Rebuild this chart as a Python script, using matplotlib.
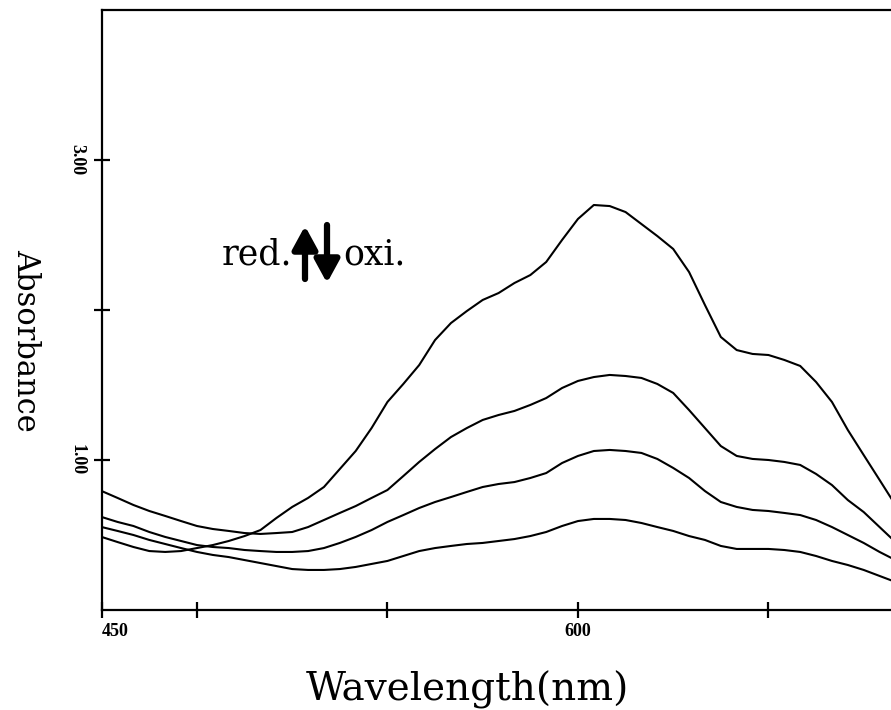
import matplotlib
matplotlib.use("Agg")
import matplotlib.pyplot as plt

# Absorption spectra, redox series (wavelength in nm, 5 nm steps)
wavelength = list(range(450, 701, 5))

absorb_1 = [0.487, 0.453, 0.42, 0.393, 0.387, 0.393, 0.413, 0.433, 0.46, 0.493,
            0.533, 0.613, 0.687, 0.747, 0.82, 0.94, 1.06, 1.213, 1.387, 1.507,
            1.633, 1.80, 1.913, 1.993, 2.067, 2.113, 2.18, 2.233, 2.32, 2.467,
            2.607, 2.70, 2.693, 2.653, 2.573, 2.493, 2.407, 2.253, 2.033, 1.82,
            1.733, 1.707, 1.70, 1.667, 1.627, 1.52, 1.387, 1.20, 1.033, 0.867,
            0.70]
absorb_2 = [0.793, 0.747, 0.70, 0.66, 0.627, 0.593, 0.56, 0.54, 0.527, 0.513,
            0.507, 0.513, 0.52, 0.553, 0.60, 0.647, 0.693, 0.747, 0.80, 0.893,
            0.987, 1.073, 1.153, 1.213, 1.267, 1.30, 1.327, 1.367, 1.413, 1.48,
            1.527, 1.553, 1.567, 1.56, 1.547, 1.507, 1.447, 1.333, 1.213, 1.093,
            1.027, 1.007, 1.0, 0.987, 0.967, 0.907, 0.833, 0.733, 0.653, 0.553,
            0.453]
absorb_3 = [0.62, 0.587, 0.56, 0.52, 0.487, 0.46, 0.433, 0.42, 0.413, 0.40,
            0.393, 0.387, 0.387, 0.393, 0.413, 0.447, 0.487, 0.533, 0.587, 0.633,
            0.68, 0.72, 0.753, 0.787, 0.82, 0.84, 0.853, 0.88, 0.913, 0.98,
            1.027, 1.06, 1.067, 1.06, 1.047, 1.007, 0.947, 0.88, 0.793, 0.72,
            0.687, 0.667, 0.66, 0.647, 0.633, 0.60, 0.553, 0.50, 0.447, 0.387,
            0.333]
absorb_4 = [0.553, 0.527, 0.50, 0.467, 0.44, 0.413, 0.387, 0.367, 0.353, 0.333,
            0.313, 0.293, 0.273, 0.267, 0.267, 0.273, 0.287, 0.307, 0.327, 0.36,
            0.393, 0.413, 0.427, 0.44, 0.447, 0.46, 0.473, 0.493, 0.52, 0.56,
            0.593, 0.607, 0.607, 0.60, 0.58, 0.553, 0.527, 0.493, 0.467, 0.427,
            0.407, 0.407, 0.407, 0.40, 0.387, 0.36, 0.327, 0.30, 0.267, 0.227,
            0.187]

x_ticks = [450, 480, 540, 600, 660]
x_tick_labels = ["450", "", "", "600", ""]
y_ticks = [1, 2, 3]
y_tick_labels = ["1.00", "", "3.00"]

W, H = 891, 710
fig = plt.figure(figsize=(W / 100, H / 100), dpi=100)
ax = fig.add_axes([101.7 / W, 100 / H, 793.75 / W, 600 / H])

for series in (absorb_1, absorb_2, absorb_3, absorb_4):
    ax.plot(wavelength, series, color="black", lw=1.5,
            solid_joinstyle="round", solid_capstyle="round")

ax.set_xlim(450, 700)
ax.set_ylim(0, 4)

for side in ("left", "bottom", "top"):
    ax.spines[side].set_linewidth(1.6)
ax.spines["right"].set_visible(False)

tick_font = dict(family="Liberation Serif", size=13, weight="bold")
ax.set_xticks(x_ticks)
ax.set_xticklabels(x_tick_labels, fontdict=tick_font)
ax.set_yticks(y_ticks)
ax.set_yticklabels(y_tick_labels, fontdict=tick_font, rotation=270,
                   va="center", ha="right")
ax.xaxis.get_ticklabels()[0].set_horizontalalignment("left")
ax.tick_params(axis="x", direction="inout", length=11, width=1.6, pad=4)
ax.tick_params(axis="y", direction="inout", length=11, width=1.6, pad=6)

serif = "DejaVu Serif"
fig.text(26 / W, 1 - 340 / H, "Absorbance", rotation=270, ha="center",
         va="center", family=serif, fontsize=22)
fig.text(467 / W, 1 - 690 / H, "Wavelength(nm)", ha="center", va="center",
         family=serif, fontsize=28)

# redox direction marker
fig.text(222 / W, 1 - 265 / H, "red.", ha="left", va="baseline",
         family=serif, fontsize=25)
fig.text(343 / W, 1 - 265 / H, "oxi.", ha="left", va="baseline",
         family=serif, fontsize=25)
arrow_kw = dict(arrowstyle="-|>,head_length=0.55,head_width=0.3",
                lw=4.5, color="black", mutation_scale=25, shrinkA=0, shrinkB=0)
ax.annotate("", xy=(305, H - 226), xytext=(305, H - 279),
            xycoords="figure pixels", textcoords="figure pixels",
            arrowprops=arrow_kw)
ax.annotate("", xy=(327, H - 283), xytext=(327, H - 225),
            xycoords="figure pixels", textcoords="figure pixels",
            arrowprops=arrow_kw)

fig.savefig("out.png", dpi=100)
